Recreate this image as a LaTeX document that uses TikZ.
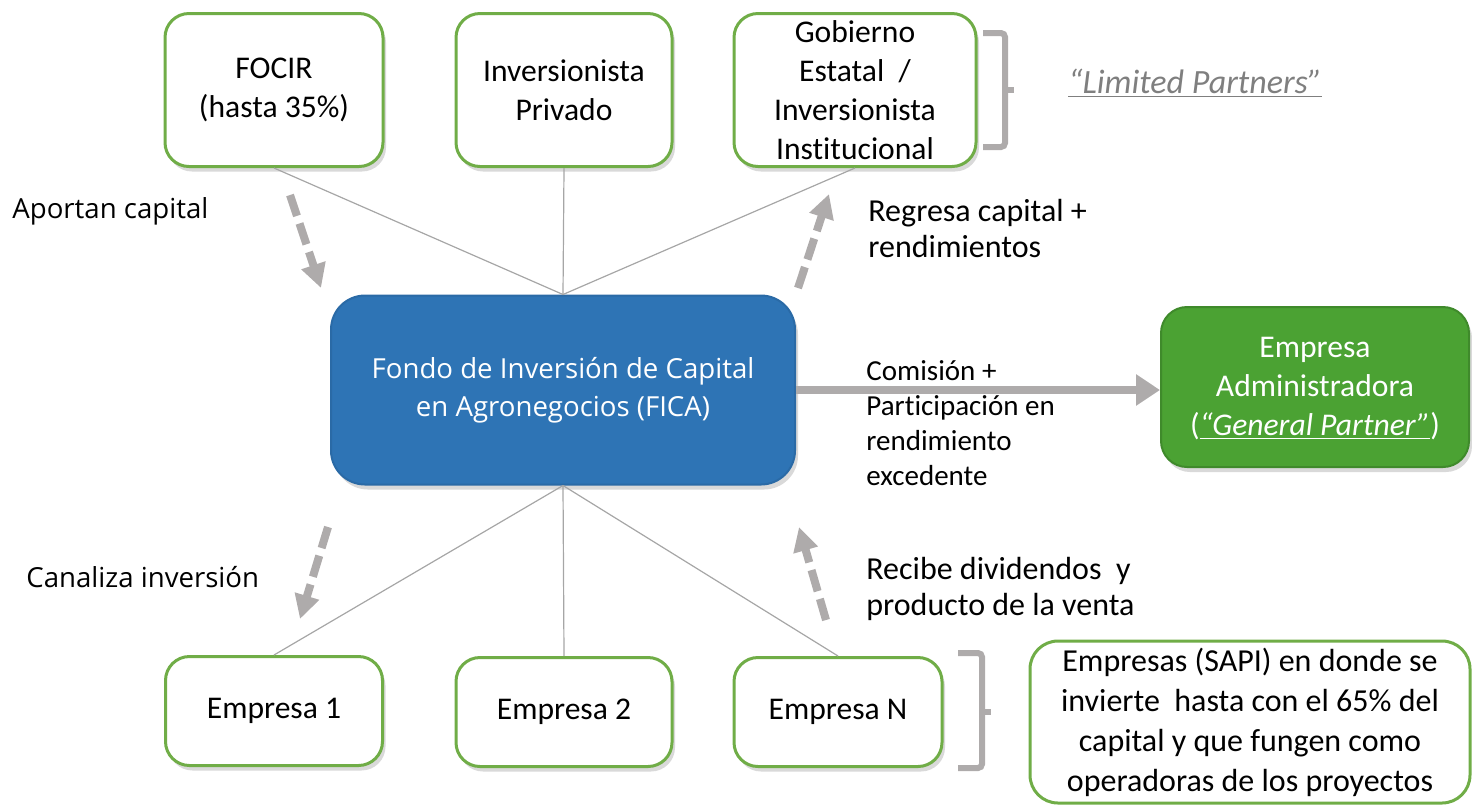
\documentclass[tikz,border=0pt]{standalone}
\usepackage{fontspec}
\setmainfont{Carlito}[Ligatures=NoCommon]
\newfontfamily\opensans{Open Sans}
\usetikzlibrary{arrows.meta,positioning,shadows}

\definecolor{boxgreen}{HTML}{70AD47}
\definecolor{ficablue}{HTML}{2E74B5}
\definecolor{ficaedge}{HTML}{2A6AA6}
\definecolor{gpgreen}{HTML}{4BA233}
\definecolor{gpedge}{HTML}{3F8A2B}
\definecolor{arrowgray}{HTML}{AEABAB}
\definecolor{linegray}{HTML}{A6A6A6}
\definecolor{lpgray}{HTML}{7F7F7F}

\newcommand\fcboxfont{\fontsize{15.8}{19.5}\selectfont}
\newcommand\fclabelfont{\fontsize{16}{18}\selectfont}
\newcommand\fcsansfont{\opensans\fontsize{13.8}{19}\selectfont}

\begin{document}
\begin{tikzpicture} [
	x=0.5pt, y=-0.5pt,
	partner/.style = {draw=boxgreen, line width=1.5pt, fill=white, rounded corners=12pt,
		align=center, inner sep=0pt, font=\fcboxfont,
		drop shadow={shadow xshift=1.5pt, shadow yshift=-2.5pt, opacity=0.3}},
	fund/.style = {draw=ficaedge, line width=1pt, fill=ficablue, text=white, rounded corners=17pt,
		align=center, inner sep=0pt, font=\fcsansfont,
		minimum width=232pt, minimum height=94.5pt,
		drop shadow={shadow xshift=1.5pt, shadow yshift=-2.5pt, opacity=0.3}},
	manager/.style = {draw=gpedge, line width=1pt, fill=gpgreen, text=white, rounded corners=13pt,
		align=center, inner sep=0pt, font=\fcboxfont,
		minimum width=154pt, minimum height=80pt,
		drop shadow={shadow xshift=1.5pt, shadow yshift=-2.5pt, opacity=0.3}},
	note/.style = {anchor=west, align=left, inner sep=0pt, font=\fclabelfont},
	link/.style = {draw=linegray, line width=0.6pt},
	flow/.style = {draw=arrowgray, line width=4pt, dash pattern=on 11pt off 4pt,
		-{Triangle[length=12pt, width=12pt]}},
	payout/.style = {draw=arrowgray, line width=4pt, -{Triangle[length=12pt, width=15pt]}},
	bracket/.style = {draw=arrowgray, line width=3pt},
]
\useasboundingbox (0,0) rectangle (1472,805);

% limited partners
\node [partner, minimum width=109pt, minimum height=76.5pt] (focir) at (274,90) {FOCIR\\(hasta 35\%)};
\node [partner, minimum width=108pt, minimum height=76.5pt] (privado) at (564,90) {Inversionista\\Privado};
\node [partner, minimum width=121pt, minimum height=76.5pt] (gobierno) at (855,90)
	{Gobierno\\Estatal~~/\\Inversionista\\Institucional};

% fondo y administradora
\node [fund] (fica) at (563,390) {Fondo de Inversión de Capital\\en Agronegocios (FICA)};
\node [manager] (gp) at (1315,387) {\rule{0pt}{12pt}Empresa\\Administradora\\(\underline{\textit{“General Partner”}})};

% empresas
\node [partner, minimum width=108.5pt, minimum height=54.5pt] (emp1) at (274,711) {Empresa 1};
\node [partner, minimum width=108pt, minimum height=54.5pt] (emp2) at (564,712) {Empresa 2};
\node [partner, minimum width=104pt, minimum height=54.5pt] (empN) at (838,712) {Empresa N};
\node [draw=boxgreen, line width=1.5pt, fill=white, rounded corners=14pt, align=center,
	inner sep=0pt, minimum width=220pt, minimum height=81pt,
	font=\fontsize{16}{20}\selectfont] (sapi) at (1250,722)
	{Empresas (SAPI) en donde se\\invierte~ hasta con el 65\% del\\capital y que fungen como\\operadoras de los proyectos};

% lineas
\foreach \n in {focir, privado, gobierno}
	\draw [link] (fica.north) -- (\n.south);
\foreach \n in {emp1, emp2, empN}
	\draw [link] (fica.south) -- (\n.north);
\draw [payout] (fica.east) -- (fica.east -| gp.west);

% flujos
\coordinate (aporteA) at (290,195);
\coordinate (aporteB) at (321,288);
\coordinate (regresoA) at (798,288);
\coordinate (regresoB) at (829,194);
\coordinate (canalA) at (328,527);
\coordinate (canalB) at (300,619);
\coordinate (reciboA) at (826,620);
\coordinate (reciboB) at (799,527);
\draw [flow] (aporteA) -- (aporteB);
\draw [flow] (regresoA) -- (regresoB);
\draw [flow] (canalA) -- (canalB);
\draw [flow] (reciboA) -- (reciboB);

% etiquetas
\node [note, font=\fcsansfont] (aportan) at (12,211) {Aportan capital};
\node [note, font=\fcsansfont] (canaliza) at (26,577) {Canaliza inversión};
\node [note] (regresa) at (868,228) {Regresa capital +\\rendimientos};
\node [note, font=\fontsize{14.5}{17.5}\selectfont] (comision) at (866,423)
	{Comisión +\\Participación en\\rendimiento\\excedente};
\node [note] (recibe) at (866,589) {Recibe dividendos~ y\\producto de la venta};
\node [note, text=lpgray, font=\fontsize{17}{20}\selectfont] (limited) at (1068,83) {\underline{\textit{“Limited Partners”}}};

% llaves
\draw [bracket, rounded corners=2pt] (983,33) -- (1005,33) -- (1005,147) -- (983,147);
\draw [bracket] (1005,90) -- (1014,90);
\draw [bracket, rounded corners=2pt] (958,653) -- (982,653) -- (982,768) -- (958,768);
\draw [bracket] (982,712) -- (991,712);
\end{tikzpicture}
\end{document}
